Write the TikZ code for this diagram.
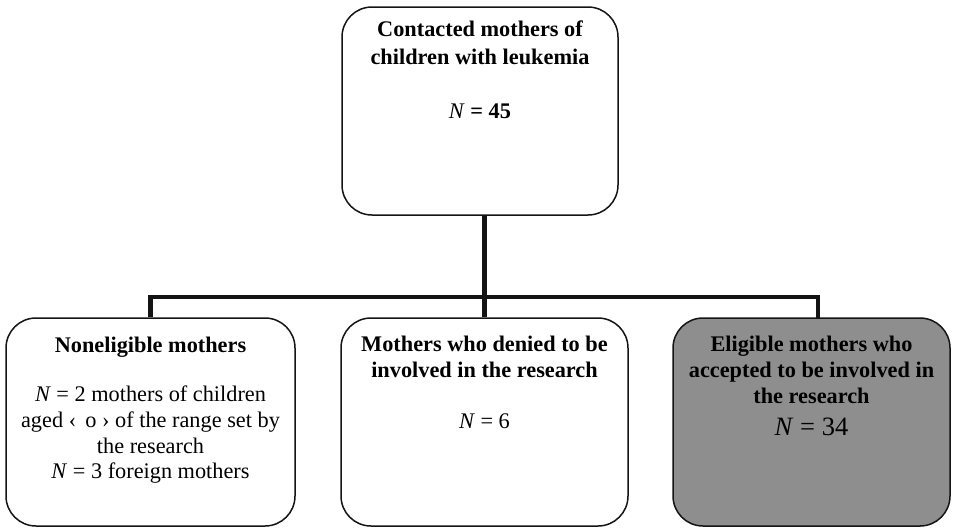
\documentclass[tikz,border=0pt]{standalone}
\usepackage{fontspec}
\setmainfont{Liberation Serif}
\definecolor{boxgray}{RGB}{142,142,142}
\definecolor{linec}{RGB}{20,20,20}
\begin{document}
\begin{tikzpicture}[x=1pt,y=-1pt,
  box/.style={draw=linec, line width=1.5pt, rounded corners=30pt, minimum height=208pt, inner sep=0pt},
  conn/.style={draw=linec, line width=4.5pt},
  txt/.style={align=center, font=\fontsize{22.3}{25.6}\selectfont, inner sep=0pt, anchor=north},
  ttl/.style={txt, font=\fontsize{22.3}{25.8}\selectfont\bfseries}]
\useasboundingbox (0,0) rectangle (955,528);
\node[box, minimum width=276pt] (top) at (480,111) {};
\node[box, minimum width=289pt] (left) at (150.5,422) {};
\node[box, minimum width=287pt] (mid) at (484.5,422) {};
\node[box, minimum width=277pt, fill=boxgray] (right) at (811.5,422) {};
% connectors
\coordinate (bar) at (484.5,297);
\coordinate (rdrop) at (818,318);
\draw[conn] (mid.north |- top.south) -- (mid.north);
\draw[conn] (left.north) |- (bar) -| (rdrop);
% texts
\node[ttl, font=\fontsize{22.3}{28}\selectfont\bfseries] (t1) at (480,21) {Contacted mothers of\\children with leukemia};
\node[txt] (t2) at (480,104) {\textit{N} \textbf{= 45}};
\node[ttl] (l1) at (150.5,337) {Noneligible mothers};
\node[txt] (l2) at (150.5,386) {\textit{N} = 2 mothers of children\\aged ‹\, o › of the range set by\\the research\\\textit{N} = 3 foreign mothers};
\node[ttl] (m1) at (484.5,336) {Mothers who denied to be\\involved in the research};
\node[txt] (m2) at (484.5,414) {\textit{N} = 6};
\node[ttl] (r1) at (811.5,336) {Eligible mothers who\\accepted to be involved in\\the research};
\node[txt, font=\fontsize{26.5}{30}\selectfont] (r2) at (811.5,418) {\textit{N} = 34};
\end{tikzpicture}
\end{document}
